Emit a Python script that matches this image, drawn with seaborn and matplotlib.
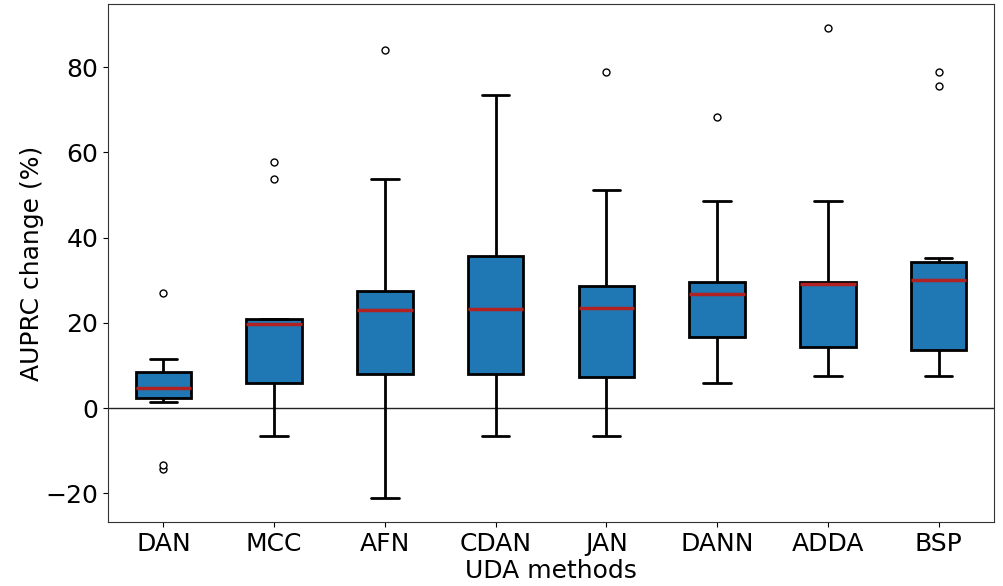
import numpy as np
import pandas as pd
from matplotlib import pyplot as plt
import seaborn as sns

# UDA methods (x order)
methods = ['DAN', 'MCC', 'AFN', 'CDAN', 'JAN', 'DANN', 'ADDA', 'BSP']

dan = [-14.3, -13.3, 1.4, 2.4, 3.1, 4.0, 4.7, 6.0, 7.4, 8.5, 10.2, 11.5, 27.0]
mcc = [-6.6, 1.2, 3.9, 5.8, 9.4, 15.1, 19.8, 20.1, 20.5, 20.9, 21.0, 53.8, 57.8]
afn = [-21.2, 1.8, 5.3, 7.9, 13.6, 19.2, 23.0, 24.8, 26.1, 27.5, 39.4, 53.8, 84.0]
cdan = [-6.6, 0.9, 4.6, 7.9, 12.8, 18.5, 23.2, 27.9, 31.4, 35.6, 46.2, 58.9, 73.4]
jan = [-6.6, 2.1, 5.2, 7.3, 11.9, 18.8, 23.6, 25.2, 27.4, 28.7, 36.5, 51.2, 78.8]
dann = [6.0, 9.8, 13.5, 16.7, 20.3, 24.1, 26.7, 27.9, 28.8, 29.7, 37.2, 48.6, 68.2]
adda = [7.5, 10.2, 12.6, 14.3, 19.7, 25.4, 29.2, 29.4, 29.6, 29.7, 38.3, 48.6, 89.3]
bsp = [7.5, 9.9, 11.8, 13.6, 21.4, 27.3, 30.1, 31.8, 33.2, 34.3, 35.2, 75.5, 78.8]

values = [dan, mcc, afn, cdan, jan, dann, adda, bsp]
rows = []
for m, vals in zip(methods, values):
    for v in vals:
        rows.append({'method': m, 'change': v})
df = pd.DataFrame(rows)

sns.set_style("white")
plt.rcParams['text.color'] = 'black'
plt.rcParams['axes.labelcolor'] = 'black'
plt.rcParams['xtick.color'] = 'black'
plt.rcParams['ytick.color'] = 'black'

fig = plt.figure(figsize=(10.04, 5.86), dpi=100)
ax = fig.add_axes([0.1076, 0.1092, 0.8824, 0.884])

sns.boxplot(data=df, x='method', y='change', order=methods, ax=ax,
            color='#1f77b4', saturation=1, width=0.5, linewidth=2,
            linecolor='black', whis=1.5, fliersize=5,
            flierprops=dict(marker='o', markerfacecolor='white',
                            markeredgecolor='black', markeredgewidth=1),
            medianprops=dict(color='#b22222', linewidth=2.5))

ax.axhline(0, color='#222222', linewidth=1, zorder=0)
ax.set_xlabel('UDA methods', fontsize=18, labelpad=2)
ax.set_ylabel('AUPRC change (%)', fontsize=18, labelpad=1)
ax.tick_params(axis='both', labelsize=18, length=3.5, width=0.8,
               left=True, bottom=True, colors='black')
ax.set_xlim(-0.5, 7.5)
for s in ax.spines.values():
    s.set_color('#333333')
    s.set_linewidth(0.8)

plt.savefig('out.png', dpi=100)
